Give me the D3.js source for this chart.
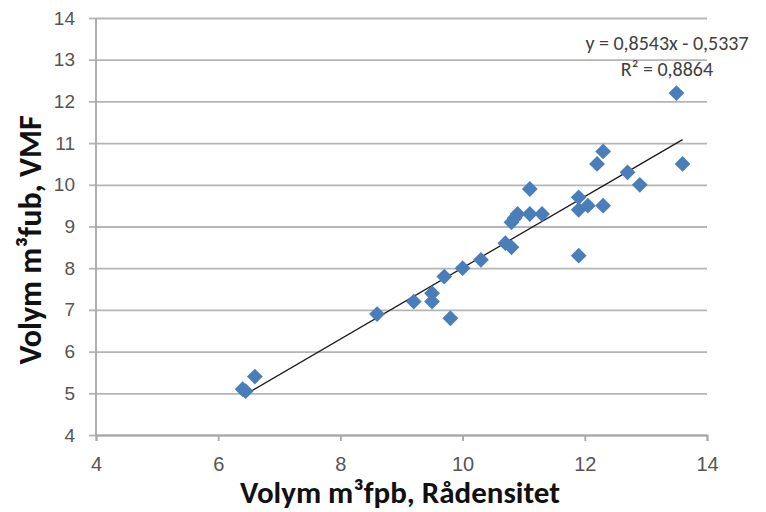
<!DOCTYPE html>
<html lang="en">
<head>
<meta charset="UTF-8">
<title>Volym VMF vs Rådensitet</title>
<script src="https://cdn.jsdelivr.net/npm/d3@7"></script>
<style>
  html, body { margin: 0; padding: 0; background: #fff; }
  svg { display: block; font-family: Carlito, "Open Sans", sans-serif; }
  .tick text { fill: #555; }
</style>
</head>
<body>
<div id="chart"></div>
<script>
// data
const xVals = [6.4, 6.45, 6.6, 8.6, 9.2, 9.5, 9.5, 9.7, 9.8, 10.0, 10.3, 10.7, 10.8, 10.8, 10.9, 10.85, 11.1, 11.1, 11.3, 11.9, 11.9, 11.9, 12.05, 12.3, 12.2, 12.3, 12.7, 12.9, 13.5, 13.6];
const yVals = [5.1, 5.05, 5.4, 6.9, 7.2, 7.4, 7.2, 7.8, 6.8, 8.0, 8.2, 8.6, 8.5, 9.1, 9.3, 9.2, 9.3, 9.9, 9.3, 9.7, 9.4, 8.3, 9.5, 9.5, 10.5, 10.8, 10.3, 10.0, 12.2, 10.5];
const trendCoef = [0.8543, -0.5337];
const trendRange = [6.4, 13.6];
const xTicks = [4, 6, 8, 10, 12, 14];
const yTicks = [4, 5, 6, 7, 8, 9, 10, 11, 12, 13, 14];
const eqLines = ["y = 0,8543x - 0,5337", "R² = 0,8864"];

var width = 766, height = 512;
var margin = { top: 18, left: 96, right: 59, bottom: 77 };

var svg = d3.select("#chart").append("svg")
    .attr("width", width)
    .attr("height", height);

var x = d3.scaleLinear().domain([4, 14]).range([margin.left, width - margin.right]),
    y = d3.scaleLinear().domain([4, 14]).range([height - margin.bottom, margin.top]);

// horizontal gridlines + y axis
var gy = svg.append("g")
    .attr("transform", `translate(${margin.left},0)`)
    .call(d3.axisLeft(y).tickValues(yTicks).tickSize(7).tickPadding(14).tickFormat(d3.format("d")));
gy.select(".domain").remove();
gy.selectAll(".tick text").attr("font-size", 19);
gy.selectAll(".tick line").attr("stroke", "#b5b5b5").attr("stroke-width", 1.8);
gy.selectAll(".tick").append("line")
    .attr("x2", x(14) - margin.left)
    .attr("stroke", "#b5b5b5").attr("stroke-width", 1.8);

// left axis line
svg.append("line")
    .attr("x1", x(4)).attr("x2", x(4))
    .attr("y1", y(4)).attr("y2", y(14))
    .attr("stroke", "#a8a8a8").attr("stroke-width", 1.8);

// x axis
var gx = svg.append("g")
    .attr("transform", `translate(0,${y(4)})`)
    .call(d3.axisBottom(x).tickValues(xTicks).tickSize(6).tickPadding(16).tickFormat(d3.format("d")));
gx.selectAll(".tick text").attr("font-size", 20);
gx.select(".domain").attr("stroke", "#a8a8a8").attr("stroke-width", 1.8);
gx.selectAll(".tick line").attr("stroke", "#a8a8a8").attr("stroke-width", 1.8);

// trend line
svg.append("line")
    .attr("x1", x(trendRange[0])).attr("y1", y(trendCoef[0] * trendRange[0] + trendCoef[1]))
    .attr("x2", x(trendRange[1])).attr("y2", y(trendCoef[0] * trendRange[1] + trendCoef[1]))
    .attr("stroke", "#1a1a1a").attr("stroke-width", 1.3);

// points (diamonds)
var diamond = d3.symbol().type(d3.symbolSquare).size(125);
svg.append("g").selectAll("path")
    .data(d3.zip(xVals, yVals))
    .enter().append("path")
    .attr("d", diamond)
    .attr("transform", d => `translate(${x(d[0])},${y(d[1])}) rotate(45)`)
    .attr("fill", "#4a7ebb");

// equation
svg.append("g").selectAll("text")
    .data(eqLines)
    .enter().append("text")
    .attr("x", 667)
    .attr("y", (d, i) => 50 + i * 26)
    .attr("text-anchor", "middle")
    .attr("font-size", 20)
    .attr("fill", "#404040")
    .text(d => d);

// axis titles
svg.append("text")
    .attr("x", 400).attr("y", 503)
    .attr("text-anchor", "middle")
    .attr("font-size", 31).attr("font-weight", "bold")
    .attr("fill", "#111")
    .text("Volym m³fpb, Rådensitet");

svg.append("text")
    .attr("transform", "translate(41,240) rotate(-90)")
    .attr("text-anchor", "middle")
    .attr("font-size", 32).attr("font-weight", "bold")
    .attr("fill", "#111")
    .text("Volym m³fub, VMF");
</script>
</body>
</html>
